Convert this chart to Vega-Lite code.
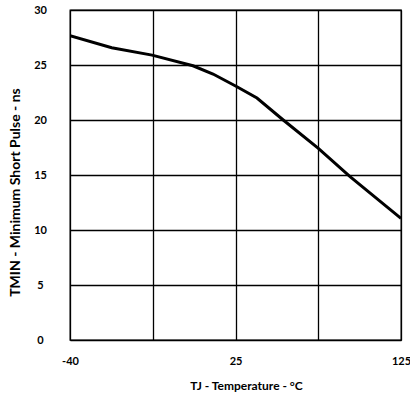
{
  "$schema": "https://vega.github.io/schema/vega-lite/v6.json",
  "width": 331,
  "height": 330,
  "autosize": {"type": "none"},
  "padding": {"left": 70, "top": 10, "right": 9, "bottom": 53},
  "background": "white",
  "config": {
    "font": "Lato",
    "view": {"stroke": "black", "strokeWidth": 1.3},
    "axis": {
      "labelFont": "Lato",
      "labelFontWeight": "bold",
      "labelFontSize": 11,
      "labelColor": "black",
      "titleFont": "Lato",
      "titleFontWeight": "bold",
      "titleFontSize": 12,
      "titleColor": "black",
      "grid": true,
      "gridColor": "black",
      "gridOpacity": 1,
      "gridWidth": 1.3,
      "domain": false,
      "ticks": false,
      "tickSize": 0
    }
  },
  "data": {
    "values": [
      {"temp": -40, "tmin": 27.66},
      {"temp": -19.2, "tmin": 26.57},
      {"temp": 0.9, "tmin": 25.9},
      {"temp": 21.3, "tmin": 24.93},
      {"temp": 31.3, "tmin": 24.18},
      {"temp": 43.0, "tmin": 23.05},
      {"temp": 53.2, "tmin": 22.0},
      {"temp": 66.3, "tmin": 20.0},
      {"temp": 83.8, "tmin": 17.43},
      {"temp": 99.6, "tmin": 14.85},
      {"temp": 125, "tmin": 11.06}
    ]
  },
  "mark": {"type": "line", "color": "black", "strokeWidth": 3, "clip": true},
  "encoding": {
    "x": {
      "field": "temp",
      "type": "quantitative",
      "scale": {"domain": [-40, 125], "nice": false, "zero": false},
      "axis": {
        "title": "TJ - Temperature - °C",
        "values": [-40, 1.25, 42.5, 83.75, 125],
        "labelExpr": "datum.value == -40 ? '-40' : datum.value == 42.5 ? '25' : datum.value == 125 ? '125' : ''",
        "labelPadding": 15,
        "titlePadding": 14,
        "titleX": 176,
        "titleAlign": "center",
        "labelFlush": false,
        "labelOverlap": false
      }
    },
    "y": {
      "field": "tmin",
      "type": "quantitative",
      "scale": {"domain": [0, 30], "nice": false},
      "axis": {
        "title": "TMIN - Minimum Short Pulse - ns",
        "titleFontSize": 14,
        "values": [0, 5, 10, 15, 20, 25, 30],
        "labelAlign": "center",
        "labelPadding": 30,
        "titleX": -55,
        "titleY": 182,
        "titleAngle": -90,
        "titleAlign": "center",
        "titleBaseline": "middle",
        "labelFlush": false
      }
    }
  }
}
